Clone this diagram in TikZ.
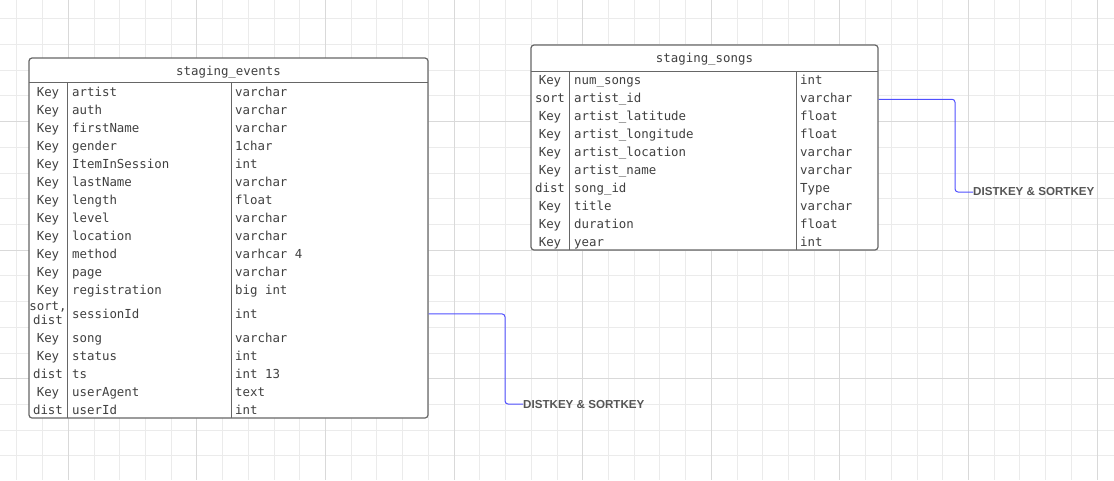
\documentclass[tikz,border=0pt]{standalone}
\usepackage{fontspec}
\setmonofont{DejaVu Sans Mono}
\newfontfamily\notefont{Liberation Sans}
\usetikzlibrary{calc}

\definecolor{gridminor}{HTML}{EBEBEB}
\definecolor{gridmajor}{HTML}{D9D9D9}
\definecolor{tableline}{HTML}{666666}
\definecolor{celltext}{HTML}{404040}
\definecolor{linkblue}{HTML}{5050FF}
\definecolor{notegray}{HTML}{555555}

\tikzset{
  tablebox/.style={draw=tableline, fill=white, line width=1.2pt, rounded corners=3pt, inner sep=0pt},
  rule/.style={draw=tableline, line width=1pt},
  cell/.style={font=\ttfamily\fontsize{12.4}{12}\selectfont, text=celltext, inner sep=0pt},
  keycell/.style={cell, anchor=base},
  namecell/.style={cell, anchor=base west},
  keynote/.style={font=\notefont\bfseries\fontsize{11.6}{12}\selectfont, text=notegray, inner sep=0pt, anchor=west},
  link/.style={draw=linkblue, line width=1pt, rounded corners=3pt},
}
\newcommand{\sortdist}{\raisebox{-6pt}{\shortstack{sort,\\dist}}}

\begin{document}
\begin{tikzpicture}[x=1pt, y=-1pt]
  \useasboundingbox (0,0) rectangle (1114,480);
  % background grid
  \foreach \gx in {0,...,42} \draw[gridminor, line width=1pt] (16.9+25.72*\gx,0) -- (16.9+25.72*\gx,480);
  \foreach \gy in {0,...,17} \draw[gridminor, line width=1pt] (0,18.7+25.72*\gy) -- (1114,18.7+25.72*\gy);
  \foreach \gx in {0,...,8} \draw[gridmajor, line width=1pt] (68.3+128.6*\gx,0) -- (68.3+128.6*\gx,480);
  \foreach \gy in {0,...,3} \draw[gridmajor, line width=1pt] (0,-7+128.6*\gy) -- (1114,-7+128.6*\gy);

  % staging_events
  \node[tablebox, minimum width=399, minimum height=360] (events) at (228.5,238) {};
  \node[keycell] (events-title) at (228.5,75) {staging\_events};
  \draw[rule] (29,82) -- (428,82);
  \draw[rule] (67,82) -- (67,418);
  \draw[rule] (231,82) -- (231,418);
  \foreach \k/\n/\t [count=\i, evaluate=\i as \y using {\i<13 ? 78.5+18*\i : (\i==13 ? 318.5 : 90.5+18*\i)}] in {
      Key/artist/varchar, Key/auth/varchar, Key/firstName/varchar, Key/gender/1char,
      Key/ItemInSession/int, Key/lastName/varchar, Key/length/float, Key/level/varchar,
      Key/location/varchar, Key/method/varhcar 4, Key/page/varchar, Key/registration/big int,
      \sortdist/sessionId/int, Key/song/varchar, Key/status/int, dist/ts/int 13,
      Key/userAgent/text, dist/userId/int}{
    \node[keycell] (ev-k\i) at (48,\y) {\k};
    \node[namecell] (ev-n\i) at (72,\y) {\n};
    \node[namecell] (ev-t\i) at (235,\y) {\t};
  }

  % staging_songs
  \node[tablebox, minimum width=347, minimum height=205] (songs) at (704.5,147.5) {};
  \node[keycell] (songs-title) at (704.5,62.5) {staging\_songs};
  \draw[rule] (531,71) -- (878,71);
  \draw[rule] (569,71) -- (569,250);
  \draw[rule] (796,71) -- (796,250);
  \foreach \k/\n/\t [count=\i, evaluate=\i as \y using 66.5+18*\i] in {
      Key/num\_songs/int, sort/artist\_id/varchar, Key/artist\_latitude/float,
      Key/artist\_longitude/float, Key/artist\_location/varchar, Key/artist\_name/varchar,
      dist/song\_id/Type, Key/title/varchar, Key/duration/float, Key/year/int}{
    \node[keycell] (ss-k\i) at (550,\y) {\k};
    \node[namecell] (ss-n\i) at (574,\y) {\n};
    \node[namecell] (ss-t\i) at (800,\y) {\t};
  }

  % key notes
  \node[keynote] (evnote) at (523,404) {DISTKEY \& SORTKEY};
  \node[keynote] (ssnote) at (973,192) {DISTKEY \& SORTKEY};
  \draw[link] (events.east |- ev-n13) -| ($(evnote.west)+(-18,0)$) -- (evnote.west);
  \draw[link] (songs.east |- ss-n2) -| ($(ssnote.west)+(-18,0)$) -- (ssnote.west);
\end{tikzpicture}
\end{document}
